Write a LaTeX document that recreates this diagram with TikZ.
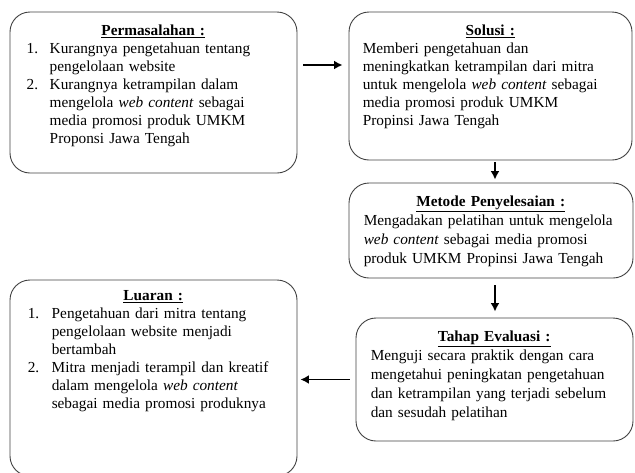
\documentclass[tikz,border=0pt]{standalone}
\usepackage{fontspec}
\setmainfont{Liberation Serif}
\usetikzlibrary{arrows,arrows.meta,positioning}

\newcommand{\boxtitle}[1]{{\centering\underline{\textbf{#1}}\par}\raggedright}
\newcommand{\numitem}[2]{\makebox[#1][l]{#2}}

\begin{document}
\begin{tikzpicture}[x=1pt,y=-1pt]
    \tikzset{
      rectroundnode/.style={rectangle,rounded corners=20pt,draw=black!75,line width=0.9pt,inner sep=0pt},
      boxtext/.style={inner sep=0pt,font=\fontsize{15.3}{18}\selectfont},
      widetext/.style={boxtext,font=\fontsize{15.3}{19}\selectfont},
      arrow/.style={-{Latex[length=8.5pt,width=9pt]},line width=1.8pt}
    }
    \useasboundingbox (0,0) rectangle (635,472);

    \node[rectroundnode,minimum width=287pt,minimum height=161pt](masalah) at (153.5,92.5){};
    \node[rectroundnode,minimum width=283pt,minimum height=148pt](solusi) at (490.5,86){};
    \node[rectroundnode,minimum width=284pt,minimum height=95pt](metode) at (491,230.5){};
    \node[rectroundnode,minimum width=277pt,minimum height=123pt](evaluasi) at (494.5,379.5){};
    \node[rectroundnode,minimum width=287pt,minimum height=196pt](luaran) at (153.5,378){};

    \node[boxtext,text width=253pt,below right=13pt and 17pt of masalah.north west](masalahtxt){%
      \boxtitle{Permasalahan :}
      \numitem{23pt}{1.}Kurangnya pengetahuan tentang\\
      \hspace*{23pt}pengelolaan website\\
      \numitem{23pt}{2.}Kurangnya ketrampilan dalam\\
      \hspace*{23pt}mengelola \textit{web content} sebagai\\
      \hspace*{23pt}media promosi produk UMKM\\
      \hspace*{23pt}Proponsi Jawa Tengah};
    \node[boxtext,text width=255pt,below right=13pt and 14pt of solusi.north west](solusitxt){%
      \boxtitle{Solusi :}
      Memberi pengetahuan dan\\
      meningkatkan ketrampilan dari mitra\\
      untuk mengelola \textit{web content} sebagai\\
      media promosi produk UMKM\\
      Propinsi Jawa Tengah};
    \node[widetext,text width=254pt,below right=13pt and 15pt of metode.north west](metodetxt){%
      \boxtitle{Metode Penyelesaian :}
      Mengadakan pelatihan untuk mengelola\\
      \textit{web content} sebagai media promosi\\
      produk UMKM Propinsi Jawa Tengah};
    \node[widetext,text width=247pt,below right=13pt and 15pt of evaluasi.north west](evaluasitxt){%
      \boxtitle{Tahap Evaluasi :}
      Menguji secara praktik dengan cara\\
      mengetahui peningkatan pengetahuan\\
      dan ketrampilan yang terjadi sebelum\\
      dan sesudah pelatihan};
    \node[boxtext,text width=251pt,below right=10.5pt and 18pt of luaran.north west](luarantxt){%
      \boxtitle{Luaran :}
      \numitem{24pt}{1.}Pengetahuan dari mitra tentang\\
      \hspace*{24pt}pengelolaan website menjadi\\
      \hspace*{24pt}bertambah\\
      \numitem{24pt}{2.}Mitra menjadi terampil dan kreatif\\
      \hspace*{24pt}dalam mengelola \textit{web content}\\
      \hspace*{24pt}sebagai media promosi produknya};

    \coordinate[above=27.5pt of masalah.east](arrowrow);
    \draw[arrow,shorten <=6pt,shorten >=6pt](arrowrow) -- (solusi.west |- arrowrow);
    \draw[arrow,shorten <=2pt,shorten >=3pt]([xshift=4.5pt]solusi.south) -- ([xshift=4.5pt]solusi.south |- metode.north);
    \draw[arrow,shorten <=7pt,shorten >=6pt]([xshift=4pt]metode.south) -- ([xshift=4pt]metode.south |- evaluasi.north);
    \draw[arrow,shorten <=6pt,shorten >=3pt](evaluasi.west) -- (luaran.east |- evaluasi.west);

  \end{tikzpicture}
\end{document}
